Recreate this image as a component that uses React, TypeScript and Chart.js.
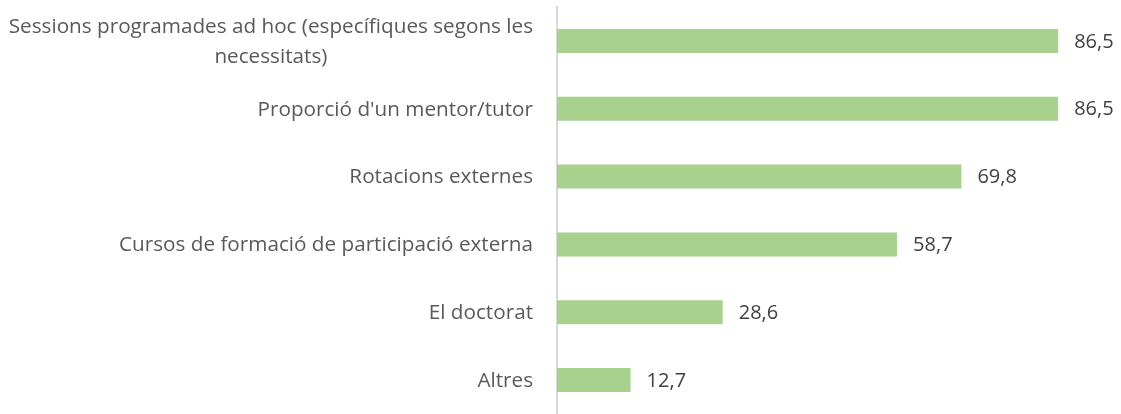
import React, { useEffect, useRef } from "react";
import { Chart, registerables } from "chart.js";

Chart.register(...registerables);

const categories: (string | string[])[] = [
  ["Sessions programades ad hoc (específiques segons les", "necessitats)"],
  "Proporció d'un mentor/tutor",
  "Rotacions externes",
  "Cursos de formació de participació externa",
  "El doctorat",
  "Altres",
];
const values = [86.5, 86.5, 69.8, 58.7, 28.6, 12.7];

const FONT = "'Open Sans', Lato, sans-serif";
const LABEL_SIZE = 20.7;
const VALUE_SIZE = 20;
const LINE_H = 30;

const labelsPlugin = {
  id: "customLabels",
  afterDraw(chart: any) {
    const ctx = chart.ctx;
    const y = chart.scales.y;
    const meta = chart.getDatasetMeta(0);
    ctx.save();
    ctx.font = `${LABEL_SIZE}px ${FONT}`;
    ctx.textBaseline = "middle";
    ctx.fillStyle = "#595959";
    const right = y.right - 24;
    categories.forEach((lab, i) => {
      const cy = y.getPixelForTick(i) + 1;
      const lines = Array.isArray(lab) ? lab : [lab];
      const maxW = Math.max(...lines.map((l) => ctx.measureText(l).width));
      const startY = cy - ((lines.length - 1) * LINE_H) / 2;
      lines.forEach((l, j) => {
        if (lines.length > 1) {
          ctx.textAlign = "center";
          ctx.fillText(l, right - maxW / 2, startY + j * LINE_H);
        } else {
          ctx.textAlign = "right";
          ctx.fillText(l, right, startY + j * LINE_H);
        }
      });
    });
    ctx.font = `${VALUE_SIZE}px ${FONT}`;
    ctx.fillStyle = "#404040";
    ctx.textAlign = "left";
    meta.data.forEach((bar: any, i: number) => {
      const txt = values[i].toFixed(1).replace(".", ",");
      ctx.fillText(txt, bar.x + 16, bar.y + 1);
    });
    ctx.restore();
  },
};

export default function App() {
  const ref = useRef<HTMLCanvasElement>(null);
  useEffect(() => {
    const chart = new Chart(ref.current!, {
      type: "bar",
      data: {
        labels: categories.map((c) => (Array.isArray(c) ? c.join(" ") : c)),
        datasets: [
          {
            data: values,
            backgroundColor: "#A9D18E",
            borderWidth: 0,
            barPercentage: 0.353,
            categoryPercentage: 1,
          },
        ],
      },
      options: {
        indexAxis: "y",
        animation: false,
        responsive: false,
        maintainAspectRatio: false,
        layout: { padding: { top: 7, right: 2, bottom: 0, left: 0 } },
        plugins: {
          legend: { display: false },
          tooltip: { enabled: false },
        },
        scales: {
          x: {
            display: false,
            min: 0,
            max: 97,
          },
          y: {
            grid: { display: false },
            border: { display: true, color: "#D9D9D9", width: 2 },
            ticks: { display: false },
            afterFit: (scale: any) => {
              scale.width = 557;
            },
          },
        },
      },
      plugins: [labelsPlugin],
    });
    return () => chart.destroy();
  }, []);
  return (
    <div style={{ position: "fixed", left: 0, top: 0, width: 1121, height: 414, background: "#fff" }}>
      <canvas ref={ref} width={1121} height={414} />
    </div>
  );
}
